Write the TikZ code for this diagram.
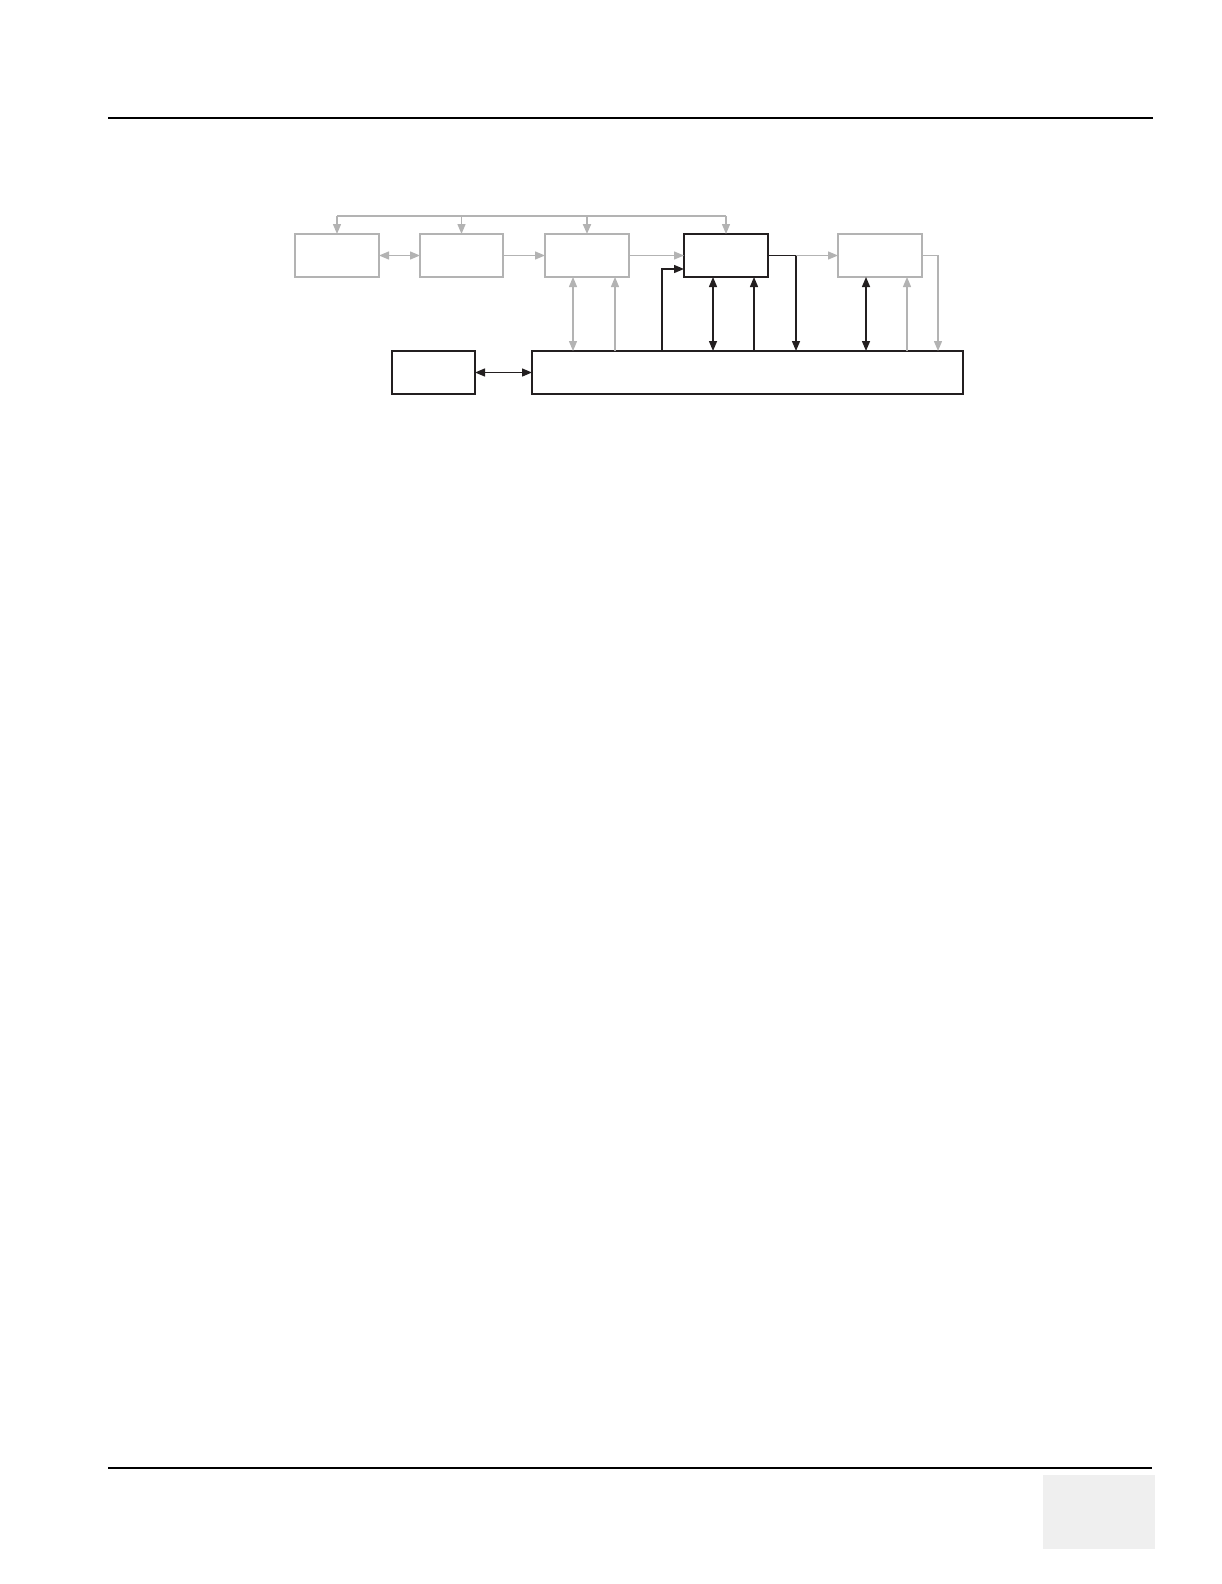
\documentclass[tikz,border=0pt]{standalone}
\usetikzlibrary{arrows.meta}
\definecolor{lgray}{HTML}{B3B3B3}
\definecolor{dk}{HTML}{231F20}
\definecolor{tabfill}{HTML}{EFEFEF}
\begin{document}
\begin{tikzpicture}[x=1pt,y=-1pt,
  gbox/.style={draw=lgray,line width=1.5pt,minimum width=84pt,minimum height=43pt,inner sep=0pt,outer sep=0pt},
  kbox/.style={draw=dk,line width=1.5pt,minimum width=84pt,minimum height=43pt,inner sep=0pt,outer sep=0pt},
  gline/.style={draw=lgray,line width=1.3pt},
  kline/.style={draw=dk,line width=1.4pt},
  gtip/.style={-{Triangle[length=10pt,width=8pt]}},
  gtips/.style={{Triangle[length=10pt,width=8pt]}-{Triangle[length=10pt,width=8pt]}},
  rule/.style={draw=black,line width=1.3pt}]
\useasboundingbox (0,0) rectangle (1222,1584);
% page rules and tab
\coordinate (tl) at (108,118);
\coordinate (tr) at (1153,118);
\coordinate (bl) at (108,1468);
\coordinate (br) at (1152,1468);
\draw[rule] (tl) -- (tr);
\draw[rule] (bl) -- (br);
\node[fill=tabfill,minimum width=112pt,minimum height=74pt,inner sep=0pt,outer sep=0pt] (tab) at (1099,1512) {};
% boxes
\node[gbox] (A) at (337,255.5) {};
\node[gbox,minimum width=83pt] (B) at (461.5,255.5) {};
\node[gbox] (C) at (587,255.5) {};
\node[kbox,line width=2pt] (D) at (726,255.5) {};
\node[gbox] (E) at (880,255.5) {};
\node[kbox,minimum width=83pt] (F) at (433.5,372.5) {};
\node[kbox,minimum width=431pt] (G) at (747.5,372.5) {};
% top bus
\coordinate (bus) at (0,216);
\draw[gline] (A.north |- bus) -- (D.north |- bus);
\draw[gline,gtip] (A.north |- bus) -- (A.north);
\draw[gline,gtip] (B.north |- bus) -- (B.north);
\draw[gline,gtip,line width=2pt] (C.north |- bus) -- (C.north);
\draw[gline,gtip] (D.north |- bus) -- (D.north);
% horizontal links in top row
\draw[gline,gtips] (A.east) -- (B.west);
\draw[gline,gtip] (B.east) -- (C.west);
\draw[gline,gtip] (C.east) -- (D.west);
\coordinate (jd) at (796,255.5);
\draw[kline] (D.east) -- (jd);
\draw[gline,gtip] (jd) -- (E.west);
\draw[kline,gtip] (jd) -- (jd |- G.north);
% C <-> G
\coordinate (c1) at (573,0);
\coordinate (c2) at (615,0);
\draw[gline,gtips] (c1 |- C.south) -- (c1 |- G.north);
\draw[gline,gtip] (c2 |- G.north) -- (c2 |- C.south);
% D <-> G
\coordinate (d0) at (662,269);
\coordinate (d1) at (713,0);
\coordinate (d2) at (754,0);
\draw[kline,gtip] (d0 |- G.north) -- (d0) -- (d0 -| D.west);
\draw[kline,gtips] (d1 |- D.south) -- (d1 |- G.north);
\draw[kline,gtip] (d2 |- G.north) -- (d2 |- D.south);
% E <-> G
\coordinate (e1) at (866,0);
\coordinate (e2) at (907,0);
\coordinate (e3) at (938,255.5);
\draw[kline,gtips] (e1 |- E.south) -- (e1 |- G.north);
\draw[gline,gtip] (e2 |- G.north) -- (e2 |- E.south);
\draw[gline,gtip] (E.east) -- (e3) -- (e3 |- G.north);
% F <-> G
\draw[kline,gtips] (F.east) -- (G.west);
\end{tikzpicture}
\end{document}
